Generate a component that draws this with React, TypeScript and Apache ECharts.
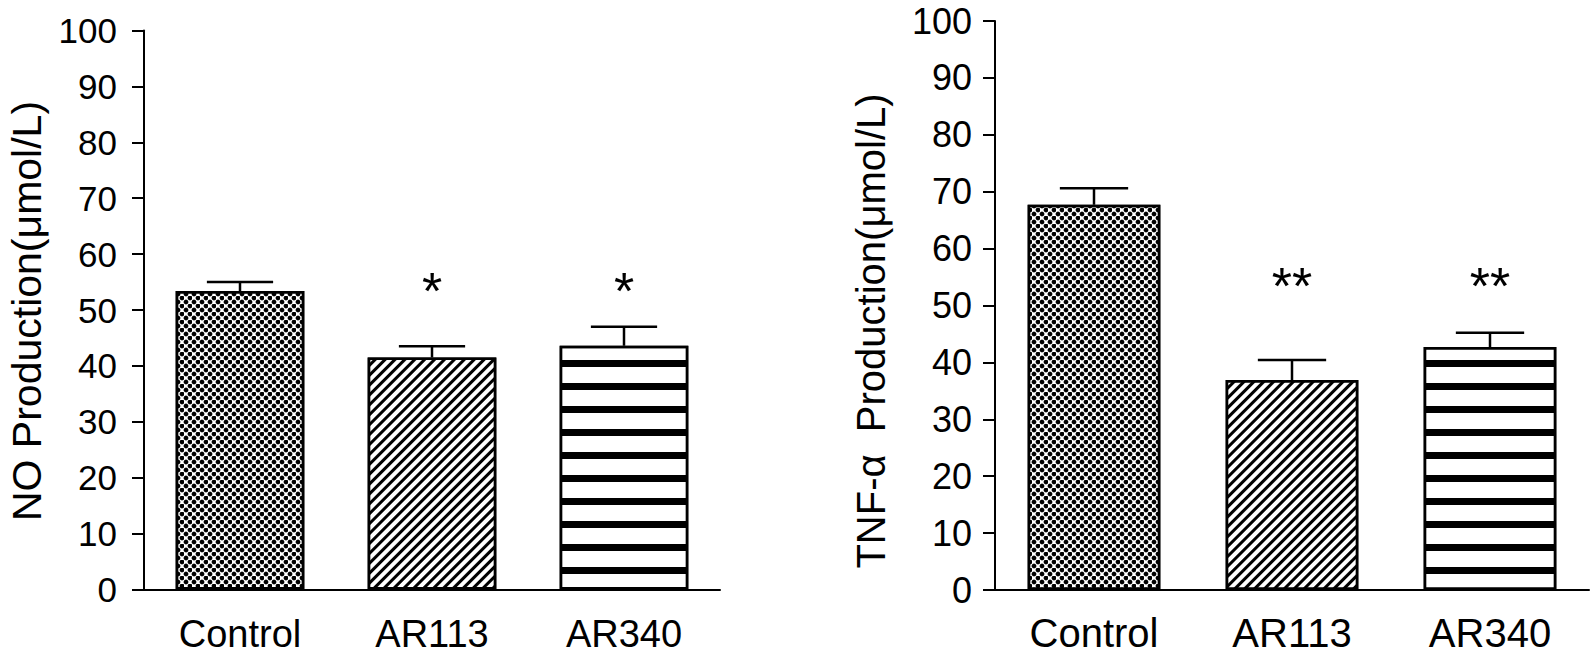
import React, { useEffect, useRef } from 'react';
import * as echarts from 'echarts';

// ---- data ----
const categories = ['Control', 'AR113', 'AR340'];
const noMeans = [53.4, 41.5, 43.6];
const noErrors = [1.6, 2.0, 3.4];
const noSig = ['', '*', '*'];
const tnfMeans = [67.7, 36.9, 42.7];
const tnfErrors = [2.9, 3.5, 2.5];
const tnfSig = ['', '**', '**'];
const yMin = 0;
const yMax = 100;
const yStep = 10;
const sigLevel = 55;
const noTitle = 'NO Production(μmol/L)';
const tnfTitle = 'TNF-α  Production(μmol/L)';

const SANS = '"Liberation Sans", Arial, sans-serif';

const decalDots = {
  symbol: 'circle',
  symbolSize: 1.2,
  dashArrayX: [[4, 4], [0, 4, 4, 0]],
  dashArrayY: [4, 0],
  color: '#000',
};
const decalDiag = {
  symbol: 'rect',
  symbolSize: 1,
  dashArrayX: [1, 0],
  dashArrayY: [3, 4],
  rotation: -Math.PI / 4,
  color: '#000',
};
const decalHoriz = {
  symbol: 'rect',
  symbolSize: 1,
  dashArrayX: [1, 0],
  dashArrayY: [0, 15, 7, 1],
  color: '#000',
};
const decals = [decalDots, decalDiag, decalHoriz];

function barSeries(idx: number, means: number[]) {
  return {
    type: 'bar',
    xAxisIndex: idx,
    yAxisIndex: idx,
    barWidth: '67%',
    data: means.map((v, i) => ({
      value: v,
      itemStyle: {
        color: '#fff',
        borderColor: '#000',
        borderWidth: 2.5,
        decal: decals[i],
      },
    })),
    z: 2,
  };
}

function errSeries(idx: number, means: number[], errs: number[]) {
  return {
    type: 'custom',
    xAxisIndex: idx,
    yAxisIndex: idx,
    z: 3,
    data: means.map((m, i) => [i, m, errs[i]]),
    renderItem: (params: any, api: any) => {
      const x = api.value(0);
      const m = api.value(1);
      const e = api.value(2);
      const base = api.coord([x, m]);
      const top = api.coord([x, m + e]);
      const half = api.size([1, 0])[0] * 0.345 / 2;
      return {
        type: 'group',
        children: [
          { type: 'line', shape: { x1: top[0], y1: base[1], x2: top[0], y2: top[1] }, style: { stroke: '#000', lineWidth: 2.5 } },
          { type: 'line', shape: { x1: top[0] - half, y1: top[1], x2: top[0] + half, y2: top[1] }, style: { stroke: '#000', lineWidth: 2.5 } },
        ],
      };
    },
  };
}

function sigSeries(idx: number, sig: string[]) {
  return {
    type: 'custom',
    xAxisIndex: idx,
    yAxisIndex: idx,
    z: 4,
    data: sig.map((_, i) => [i, sigLevel]),
    renderItem: (params: any, api: any) => {
      const p = api.coord([api.value(0), api.value(1)]);
      const fs = 52;
      return {
        type: 'text',
        x: p[0],
        y: p[1] + fs * 0.18,
        style: {
          text: sig[params.dataIndex],
          fontSize: fs,
          fontFamily: SANS,
          fill: '#000',
          align: 'center',
          verticalAlign: 'middle',
          textAlign: 'center',
          textVerticalAlign: 'middle',
        },
      };
    },
  };
}

function yAxisOpt(idx: number, fs: number, margin: number) {
  return {
    type: 'value',
    gridIndex: idx,
    min: yMin,
    max: yMax,
    interval: yStep,
    axisLine: { show: true, lineStyle: { color: '#000', width: 2 } },
    axisTick: { show: true, length: 12, lineStyle: { color: '#000', width: 2 } },
    axisLabel: { color: '#000', fontSize: fs, lineHeight: fs - 2, fontFamily: SANS, margin },
    splitLine: { show: false },
  };
}

function xAxisOpt(idx: number, fs: number, margin: number) {
  return {
    type: 'category',
    gridIndex: idx,
    data: categories,
    axisLine: { show: true, lineStyle: { color: '#000', width: 2 } },
    axisTick: { show: false },
    axisLabel: { color: '#000', fontSize: fs, lineHeight: fs - 2, fontFamily: SANS, margin },
  };
}

export default function App() {
  const ref = useRef<HTMLDivElement>(null);
  useEffect(() => {
    if (!ref.current) return;
    const chart = echarts.init(ref.current, undefined, { renderer: 'svg' });
    chart.setOption({
      animation: false,
      backgroundColor: '#fff',
      grid: [
        { left: 144, top: 30.5, width: 576, height: 559 },
        { left: 995, top: 21, width: 594, height: 569 },
      ],
      xAxis: [xAxisOpt(0, 38, 26), xAxisOpt(1, 40, 24)],
      yAxis: [yAxisOpt(0, 35, 27), yAxisOpt(1, 36, 23)],
      graphic: [
        {
          type: 'text',
          x: 27,
          y: 311,
          rotation: Math.PI / 2,
          style: { text: noTitle, fontSize: 41, fontFamily: SANS, fill: '#000', align: 'center', verticalAlign: 'middle', textAlign: 'center', textVerticalAlign: 'middle' },
        },
        {
          type: 'text',
          x: 871,
          y: 331,
          rotation: Math.PI / 2,
          style: { text: tnfTitle, fontSize: 40, fontFamily: SANS, fill: '#000', align: 'center', verticalAlign: 'middle', textAlign: 'center', textVerticalAlign: 'middle' },
        },
      ],
      series: [
        barSeries(0, noMeans),
        errSeries(0, noMeans, noErrors),
        sigSeries(0, noSig),
        barSeries(1, tnfMeans),
        errSeries(1, tnfMeans, tnfErrors),
        sigSeries(1, tnfSig),
      ],
    });
    return () => chart.dispose();
  }, []);
  return <div ref={ref} style={{ position: 'fixed', left: 0, top: 0, width: 1592, height: 656 }} />;
}
